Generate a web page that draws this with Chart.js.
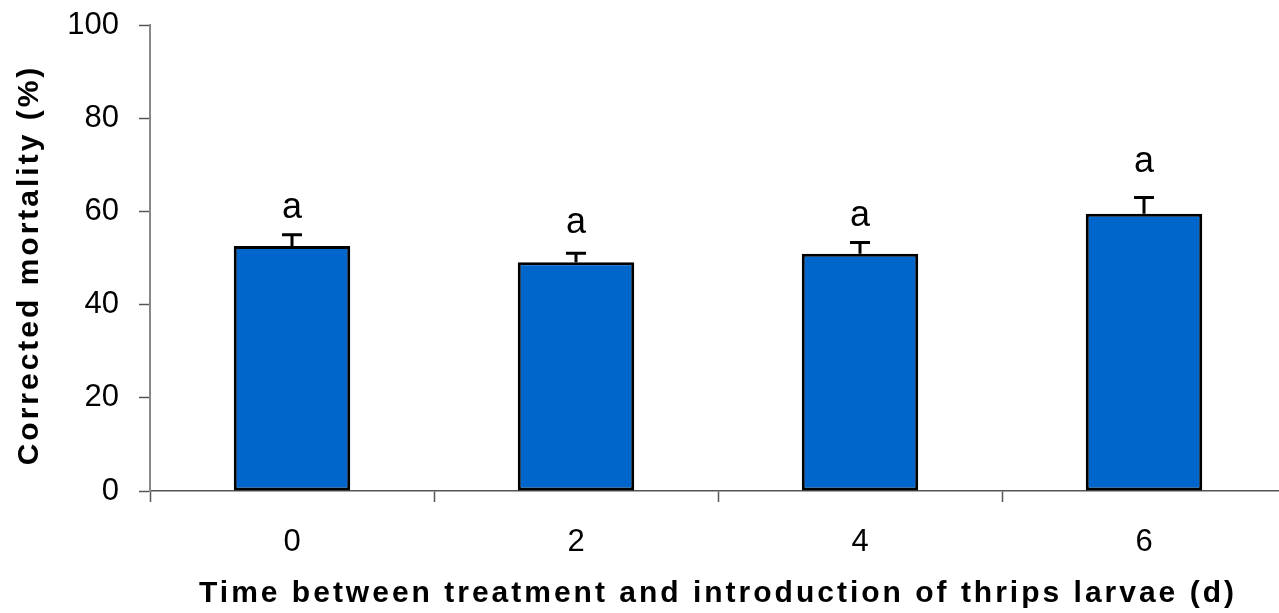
<!DOCTYPE html>
<html>
<head>
<meta charset="utf-8">
<script src="https://cdn.jsdelivr.net/npm/chart.js@4"></script>
<style>
  html, body { margin: 0; padding: 0; background: #fff; overflow: hidden; }
</style>
</head>
<body>
<canvas id="grafico" width="1290" height="613"></canvas>
<script>
// Datos del gráfico
const dias = ['0', '2', '4', '6'];
const mortalidad = [52.6, 49.1, 50.9, 59.5];
const errores = [2.4, 1.9, 2.4, 3.5];
const letras = ['a', 'a', 'a', 'a'];
const alturaLetras = [58.5, 55.3, 56.8, 68.4]; // base de la letra, en unidades del eje
const ticksY = [0, 20, 40, 60, 80, 100];
const tituloX = 'Time between treatment and introduction of thrips larvae (d)';
const tituloY = 'Corrected mortality (%)';

const fuente = '"Liberation Sans", Arial, sans-serif';

// Plugin para barras de error y letras
const barrasError = {
    id: 'barrasError',
    afterDatasetsDraw(chart) {
        const ctx = chart.ctx;
        const meta = chart.getDatasetMeta(0);
        const y = chart.scales.y;
        ctx.save();
        meta.data.forEach((bar, i) => {
            const x = bar.x;
            const yTop = y.getPixelForValue(mortalidad[i] + errores[i]);
            const yBar = y.getPixelForValue(mortalidad[i]);
            ctx.strokeStyle = '#000';
            ctx.lineWidth = 3;
            ctx.beginPath();
            ctx.moveTo(x, yBar);
            ctx.lineTo(x, yTop);
            ctx.moveTo(x - 10, yTop);
            ctx.lineTo(x + 10, yTop);
            ctx.stroke();

            ctx.fillStyle = '#000';
            ctx.font = '36px ' + fuente;
            ctx.textAlign = 'center';
            ctx.textBaseline = 'alphabetic';
            ctx.fillText(letras[i], x, y.getPixelForValue(alturaLetras[i]));
        });
        ctx.restore();
    }
};

// Títulos de los ejes con espaciado entre letras
const titulos = {
    id: 'titulos',
    afterDraw(chart) {
        const ctx = chart.ctx;
        const area = chart.chartArea;
        ctx.save();
        ctx.fillStyle = '#000';
        ctx.font = 'bold 30px ' + fuente;
        ctx.letterSpacing = '3px';
        ctx.textAlign = 'center';
        ctx.textBaseline = 'alphabetic';
        ctx.fillText(tituloX, (area.left + area.right) / 2, 602);

        ctx.translate(38, 265);
        ctx.rotate(-Math.PI / 2);
        ctx.fillText(tituloY, 0, 0);
        ctx.restore();
    }
};

const ctx = document.getElementById('grafico').getContext('2d');
const grafico = new Chart(ctx, {
    type: 'bar',
    data: {
        labels: dias,
        datasets: [{
            data: mortalidad,
            backgroundColor: '#0066CC',
            borderColor: '#000',
            borderWidth: 3,
            borderSkipped: false,
            barPercentage: 1,
            categoryPercentage: 0.41
        }]
    },
    options: {
        responsive: false,
        animation: false,
        layout: { padding: { top: 25, right: 4, bottom: 0, left: 0 } },
        plugins: {
            legend: { display: false },
            tooltip: { enabled: false }
        },
        scales: {
            x: {
                afterFit: s => { s.height = 122; s.paddingLeft = 0; s.paddingRight = 0; },
                grid: {
                    offset: true,
                    drawOnChartArea: false,
                    tickLength: 11,
                    tickWidth: 1.5,
                    tickColor: '#555'
                },
                border: { color: '#555', width: 1.5 },
                ticks: {
                    color: '#000',
                    padding: 22,
                    font: { family: fuente, size: 31 }
                }
            },
            y: {
                min: 0,
                max: 100,
                afterFit: s => { s.width = 150; s.paddingTop = 0; s.paddingBottom = 0; },
                afterBuildTicks: s => { s.ticks = ticksY.map(v => ({ value: v })); },
                grid: {
                    drawOnChartArea: false,
                    tickLength: 11,
                    tickWidth: 1.5,
                    tickColor: '#555'
                },
                border: { color: '#888', width: 2 },
                ticks: {
                    color: '#000',
                    padding: 20,
                    font: { family: fuente, size: 31 }
                }
            }
        }
    },
    plugins: [barrasError, titulos]
});
</script>
</body>
</html>
